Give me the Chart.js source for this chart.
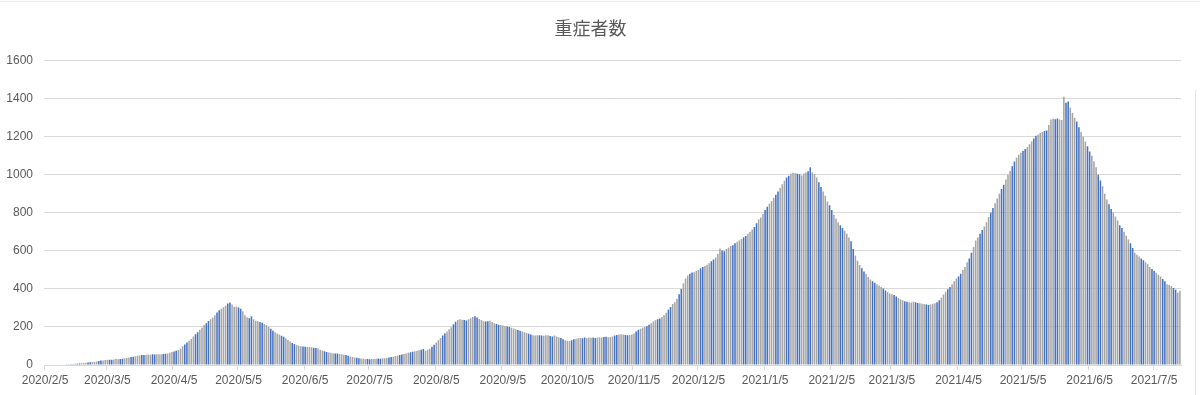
<!DOCTYPE html>
<html lang="ja">
<head>
<meta charset="utf-8">
<title>重症者数</title>
<script src="https://cdn.jsdelivr.net/npm/chart.js@4.4.1/dist/chart.umd.min.js"></script>
<style>
    html, body { margin: 0; padding: 0; background: #ffffff; }
    #wrap { position: relative; width: 1200px; height: 395px; }
    #edge-top { position: absolute; left: 0; top: 1px; width: 1200px; height: 1px; background: #ececec; }
    #edge-right { position: absolute; left: 1195px; top: 90px; width: 1px; height: 305px; background: #e3e3e3; }
</style>
</head>
<body>
<div id="wrap">
    <canvas id="chart"></canvas>
    <div id="edge-top"></div>
    <div id="edge-right"></div>
</div>
<script>
// first day of the series, one bar per day
const startDate = [2020, 2, 5];

// 重症者数 per day (2020/2/5 .. 2021/7/17)
const severe = [
    0, 0, 0, 0, 0, 0, 0, 0, 0,
    3, 4, 4, 5, 5, 6, 7,
    8, 9, 10, 12, 13, 14, 16,
    17, 19, 21, 23, 24, 26,
    27, 28, 27, 29, 31, 30, 32,
    33, 35, 37, 40, 42, 44, 46,
    48, 50, 52, 53, 54, 55, 54,
    56, 55, 57, 56, 57, 58, 59,
    61, 64, 68, 71, 75, 79, 86,
    98, 108, 118, 127, 137, 150, 161,
    172, 185, 197, 210, 220, 231, 240,
    250, 262, 276, 288, 296, 303, 311,
    323, 328, 318, 306, 307, 302, 296,
    282, 262, 251, 246, 256, 240, 232,
    230, 226, 222, 216, 210, 200, 190,
    180, 172, 166, 160, 154, 148, 140,
    132, 124, 116, 110, 105, 101, 98,
    97, 96, 95, 94, 93, 91, 89,
    87, 80, 76, 72, 68, 66, 64,
    62, 61, 60, 58, 56, 54, 52,
    48, 45, 42, 40, 38, 36, 34,
    33, 32, 31, 30, 31, 32, 33,
    34, 33, 35, 36, 38, 40, 42,
    44, 47, 50, 52, 55, 58, 61,
    64, 67, 70, 72, 75, 77, 80,
    84, 75, 80, 86, 96, 106, 118,
    130, 142, 155, 166, 176, 188, 198,
    214, 227, 236, 240, 238, 236, 234,
    240, 246, 252, 256, 250, 242, 236,
    230, 228, 230, 232, 226, 220, 216,
    212, 210, 208, 205, 203, 200, 196,
    192, 188, 184, 180, 176, 172, 168,
    164, 160, 157, 155, 156, 157, 155,
    154, 157, 156, 152, 150, 155, 150,
    146, 142, 136, 130, 127, 126, 130,
    136, 138, 140, 142, 141, 144, 142,
    145, 143, 144, 142, 144, 146, 145,
    147, 148, 146, 147, 150, 155, 158,
    160, 162, 160, 158, 157, 158, 160,
    166, 176, 185, 190, 196, 200, 204,
    212, 220, 228, 235, 240, 245, 252,
    262, 275, 290, 305, 320, 330, 348,
    372, 400, 430, 455, 470, 480, 486,
    488, 494, 500, 508, 515, 520, 527,
    535, 545, 555, 565, 585, 612, 602,
    598, 610, 618, 625, 630, 640, 648,
    655, 662, 672, 678, 690, 700, 712,
    725, 745, 765, 775, 795, 815, 832,
    848, 862, 878, 895, 912, 930, 950,
    968, 985, 995, 1005, 1010, 1008, 1005,
    1002, 996, 1006, 1012, 1018, 1040, 1012,
    1004, 985, 960, 935, 912, 890, 860,
    840, 815, 790, 770, 750, 735, 720,
    705, 690, 670, 650, 610, 575, 548,
    525, 508, 492, 478, 462, 450, 440,
    432, 425, 418, 410, 402, 392, 384,
    376, 372, 368, 360, 352, 346, 340,
    335, 332, 330, 328, 332, 330, 326,
    325, 322, 320, 318, 316, 318, 322,
    325, 330, 340, 355, 370, 385, 398,
    410, 425, 440, 455, 465, 480, 500,
    515, 540, 560, 590, 620, 655, 670,
    690, 710, 728, 750, 778, 800, 825,
    850, 875, 900, 925, 948, 975, 1000,
    1020, 1045, 1070, 1090, 1105, 1115, 1125,
    1135, 1145, 1160, 1175, 1190, 1205, 1212,
    1220, 1225, 1230, 1232, 1262, 1290, 1294,
    1292, 1296, 1290, 1288, 1410, 1378, 1385,
    1352, 1325, 1300, 1280, 1250, 1225, 1200,
    1175, 1150, 1122, 1100, 1070, 1040, 1000,
    970, 940, 900, 870, 845, 820, 800,
    780, 760, 735, 720, 700, 680, 660,
    640, 615, 590, 580, 570, 560, 550,
    540, 530, 515, 505, 495, 485, 475,
    465, 452, 440, 425, 420, 415, 405,
    395, 380, 390
];

// dates that get a label on the x axis
const tickLabels = [
    '2020/2/5', '2020/3/5', '2020/4/5', '2020/5/5', '2020/6/5', '2020/7/5',
    '2020/8/5', '2020/9/5', '2020/10/5', '2020/11/5', '2020/12/5', '2021/1/5',
    '2021/2/5', '2021/3/5', '2021/4/5', '2021/5/5', '2021/6/5', '2021/7/5'
];

const yTicks = [0, 200, 400, 600, 800, 1000, 1200, 1400, 1600];

const blue = '#4472C4';
const gray = '#A5A5A5';
const textColor = '#595959';
const lineColor = '#D9D9D9';

// build the day labels
const days = [];
const d = new Date(startDate[0], startDate[1] - 1, startDate[2]);
for (let i = 0; i < severe.length; i++) {
    days.push(d.getFullYear() + '/' + (d.getMonth() + 1) + '/' + d.getDate());
    d.setDate(d.getDate() + 1);
}

// the bars in the picture come in blue and gray runs
const barColors = severe.map((v, i) => (i % 5 < 2 ? blue : gray));

const ctx = document.getElementById('chart').getContext('2d');

new Chart(ctx, {
    type: 'bar',
    data: {
        labels: days,
        datasets: [{
            label: '重症者数',
            data: severe,
            backgroundColor: barColors,
            borderWidth: 0,
            barPercentage: 0.72,
            categoryPercentage: 1.0
        }]
    },
    options: {
        responsive: true,
        maintainAspectRatio: false,
        animation: false,
        layout: {
            padding: { left: 0, right: 19, top: 0, bottom: 0 }
        },
        plugins: {
            legend: { display: false },
            tooltip: { enabled: false },
            title: {
                display: true,
                text: '重症者数',
                color: textColor,
                font: { family: "'Noto Sans CJK JP', sans-serif", size: 18, weight: 'normal' },
                padding: { top: 17, bottom: 22 }
            }
        },
        scales: {
            x: {
                afterFit: scale => { scale.height = 30; },
                grid: {
                    offset: true,
                    drawOnChartArea: false,
                    drawTicks: true,
                    tickLength: 5,
                    color: c => (c.tick && tickLabels.includes(days[c.index]) ? lineColor : 'transparent')
                },
                border: { display: true, color: lineColor },
                ticks: {
                    autoSkip: false,
                    maxRotation: 0,
                    minRotation: 0,
                    padding: 3,
                    color: textColor,
                    font: { family: "'Liberation Sans', Arial, sans-serif", size: 12 },
                    callback: function (value, index) {
                        return tickLabels.includes(days[index]) ? days[index] : '';
                    }
                }
            },
            y: {
                min: 0,
                max: 1600,
                afterFit: scale => { scale.width = 44; },
                afterBuildTicks: scale => { scale.ticks = yTicks.map(v => ({ value: v })); },
                grid: { color: lineColor, drawTicks: false },
                border: { display: false },
                ticks: {
                    padding: 11,
                    color: textColor,
                    font: { family: "'Liberation Sans', Arial, sans-serif", size: 12 },
                    callback: value => String(value)
                }
            }
        }
    }
});
</script>
</body>
</html>
